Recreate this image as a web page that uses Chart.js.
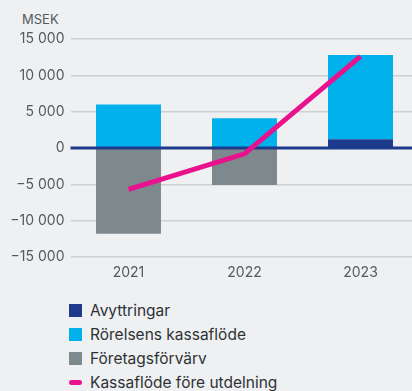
<!DOCTYPE html>
<html>
<head>
<meta charset="utf-8">
<script src="https://cdn.jsdelivr.net/npm/chart.js@4/dist/chart.umd.min.js"></script>
<style>
  html, body { margin: 0; padding: 0; background: #eef0f2; width: 412px; height: 391px; overflow: hidden; }
  #wrap { position: relative; width: 412px; height: 391px; overflow: hidden; font-family: Inter, "Noto Sans", sans-serif; }
  #cv { position: absolute; left: 0; top: 0; }
  #unit { position: absolute; left: 22px; top: 11px; font-size: 13px; color: #555a5e; line-height: 16px; }
  #legend { position: absolute; left: 69px; top: 300px; }
  .row { position: absolute; left: 0; height: 20px; display: flex; align-items: center; white-space: nowrap; font-size: 15.5px; color: #2f3235; }
  .sw { width: 13px; height: 13px; margin-right: 8px; flex: none; }
  .ln { width: 13px; height: 5px; border-radius: 3px; margin-right: 8px; flex: none; }
</style>
</head>
<body>
<div id="wrap">
  <div id="unit">MSEK</div>
  <canvas id="cv" width="420" height="290" style="width:420px;height:290px"></canvas>
  <div id="legend"></div>
</div>
<script>
// Cash flow components per year (MSEK)
const years = ['2021', '2022', '2023'];
const avyttringar = [0, 0, 1200];
const rorelsensKassaflode = [6000, 4100, 11600];
const foretagsforvarv = [-11800, -5100, 0];
const kassaflodeForeUtdelning = [-5700, -800, 12600];
const yTickValues = [-15000, -10000, -5000, 0, 5000, 10000, 15000];

const seriesNames = ['Avyttringar', 'Rörelsens kassaflöde', 'Företagsförvärv', 'Kassaflöde före utdelning'];
const colors = { avy: '#1d3a8c', ror: '#00b1ec', fore: '#7e898e', line: '#ea118e' };

function fmt(v) {
  const s = Math.abs(v).toString().replace(/\B(?=(\d{3})+(?!\d))/g, ' ');
  return (v < 0 ? '\u2212' : '') + s;
}

// Zero baseline drawn over the bars but under the line
const zeroLine = {
  id: 'zeroLine',
  beforeDatasetDraw(chart, args) {
    if (chart.data.datasets[args.index].type !== 'line') return;
    const { ctx, chartArea } = chart;
    const y = chart.scales.y.getPixelForValue(0);
    ctx.save();
    ctx.strokeStyle = colors.avy;
    ctx.lineWidth = 3;
    ctx.beginPath();
    ctx.moveTo(chartArea.left, y);
    ctx.lineTo(chartArea.right, y);
    ctx.stroke();
    ctx.restore();
  }
};

const chart = new Chart(document.getElementById('cv'), {
  data: {
    labels: years,
    datasets: [
      { type: 'bar', label: seriesNames[0], data: avyttringar, backgroundColor: colors.avy, order: 1 },
      { type: 'bar', label: seriesNames[1], data: rorelsensKassaflode, backgroundColor: colors.ror, order: 1 },
      { type: 'bar', label: seriesNames[2], data: foretagsforvarv, backgroundColor: colors.fore, order: 1 },
      { type: 'line', label: seriesNames[3], data: kassaflodeForeUtdelning, borderColor: colors.line,
        borderWidth: 5, pointRadius: 0, tension: 0, borderCapStyle: 'butt', order: 0 }
    ]
  },
  options: {
    responsive: false,
    animation: false,
    devicePixelRatio: 1,
    layout: { padding: { top: 39, right: 1.5, left: 0, bottom: 0 } },
    datasets: { bar: { barPercentage: 0.56, categoryPercentage: 1 } },
    plugins: { legend: { display: false }, tooltip: { enabled: false } },
    scales: {
      x: {
        stacked: true,
        grid: { display: false, drawTicks: false },
        border: { display: false },
        ticks: { color: '#55595d', font: { family: 'Inter', size: 14 }, padding: 7 },
        afterFit(s) { s.height = 33; }
      },
      y: {
        stacked: true,
        min: -15000, max: 15000,
        afterBuildTicks(s) { s.ticks = yTickValues.map(v => ({ value: v })); },
        grid: { color: '#cdd0d3', lineWidth: 1.5, drawTicks: false },
        border: { display: false },
        ticks: { color: '#55595d', font: { family: 'Inter', size: 14 }, padding: 6, callback: v => fmt(v) },
        afterFit(s) { s.width = 70.5; }
      }
    }
  },
  plugins: [zeroLine]
});

// Legend built from the datasets, one entry per row
const legend = document.getElementById('legend');
const rowTops = [0, 24, 48, 72];
chart.data.datasets.forEach((ds, i) => {
  const row = document.createElement('div');
  row.className = 'row';
  row.style.top = rowTops[i] + 'px';
  const mark = document.createElement('span');
  if (ds.type === 'line') { mark.className = 'ln'; mark.style.background = ds.borderColor; }
  else { mark.className = 'sw'; mark.style.background = ds.backgroundColor; }
  row.appendChild(mark);
  row.appendChild(document.createTextNode(ds.label));
  legend.appendChild(row);
});
</script>
</body>
</html>
